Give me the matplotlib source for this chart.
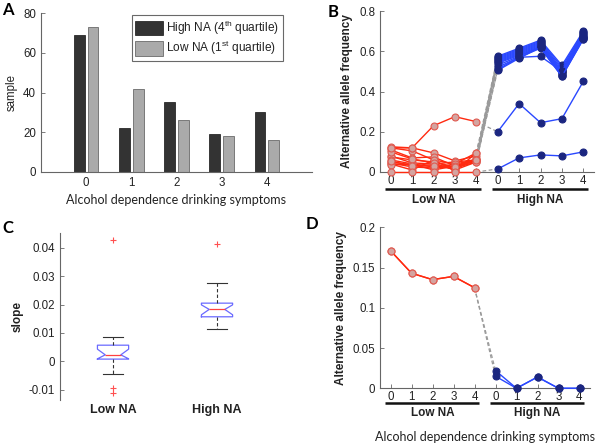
import matplotlib
matplotlib.use("Agg")
import matplotlib.pyplot as plt
from matplotlib.ticker import FuncFormatter
import numpy as np

# ---------------- data ----------------
symptoms = [0, 1, 2, 3, 4]
tick_labels_B = ["0", "1", "2", "3", "4", "0", "1", "2", "3", "4"]
high_na_counts = [69, 22, 35, 19, 30]
low_na_counts = [73, 42, 26, 18, 16]

low_B = [
    [0.120, 0.105, 0.060, 0.040, 0.095],
    [0.125, 0.120, 0.095, 0.055, 0.080],
    [0.110, 0.070, 0.075, 0.030, 0.065],
    [0.080, 0.045, 0.040, 0.050, 0.060],
    [0.075, 0.060, 0.050, 0.025, 0.055],
    [0.060, 0.040, 0.025, 0.020, 0.050],
    [0.050, 0.035, 0.035, 0.015, 0.065],
    [0.045, 0.025, 0.020, 0.040, 0.060],
    [0.040, 0.010, 0.060, 0.005, 0.095],
    [0.035, 0.040, 0.010, 0.030, 0.060],
    [0.100, 0.065, 0.045, 0.010, 0.050],
    [0.055, 0.030, 0.030, 0.025, 0.060],
    [0.120, 0.120, 0.230, 0.275, 0.250],
    [0.000, 0.000, 0.000, 0.000, 0.000],
]
high_B = [
    [0.575, 0.615, 0.655, 0.530, 0.700],
    [0.570, 0.610, 0.650, 0.520, 0.695],
    [0.565, 0.605, 0.645, 0.510, 0.690],
    [0.560, 0.600, 0.640, 0.500, 0.685],
    [0.555, 0.595, 0.635, 0.500, 0.680],
    [0.550, 0.590, 0.630, 0.495, 0.675],
    [0.545, 0.585, 0.625, 0.490, 0.670],
    [0.540, 0.580, 0.620, 0.485, 0.665],
    [0.530, 0.575, 0.620, 0.480, 0.665],
    [0.520, 0.570, 0.615, 0.475, 0.660],
    [0.510, 0.570, 0.575, 0.500, 0.670],
    [0.505, 0.565, 0.620, 0.475, 0.660],
    [0.200, 0.340, 0.245, 0.265, 0.450],
    [0.015, 0.070, 0.085, 0.080, 0.100],
]

low_D = [
    [0.171, 0.143, 0.135, 0.139, 0.125],
    [0.171, 0.143, 0.135, 0.139, 0.125],
]
high_D = [
    [0.022, 0.000, 0.014, 0.000, 0.000],
    [0.015, 0.000, 0.014, 0.000, 0.000],
]

box_labels = ["Low NA", "High NA"]
box_q1 = [0.0008, 0.0157]
box_med = [0.0023, 0.0183]
box_q3 = [0.0057, 0.0205]
box_whislo = [-0.0045, 0.0115]
box_whishi = [0.0085, 0.0277]
box_cilo = [0.0009, 0.0164]
box_cihi = [0.0043, 0.0199]
box_fliers = [[0.0427, -0.0095, -0.0111], [0.0415]]

# ---------------- style ----------------
plt.rcParams['font.family'] = ['Liberation Sans', 'DejaVu Sans']
plt.rcParams['font.size'] = 8
plt.rcParams['mathtext.default'] = 'regular'
TXT = '#222222'
SPINE = '#666666'
LBL_FONT = ['Lato', 'DejaVu Sans']

fig = plt.figure(figsize=(6.01, 4.43), dpi=100)

def px_axes(l, r, t, b):
    W, H = 601.0, 443.0
    return fig.add_axes([l / W, 1 - b / H, (r - l) / W, (b - t) / H])

def style_axes(ax, bottom=True):
    for s in ['top', 'right']:
        ax.spines[s].set_visible(False)
    ax.spines['left'].set_color(SPINE)
    ax.spines['bottom'].set_color(SPINE)
    ax.spines['bottom'].set_visible(bottom)
    ax.tick_params(direction='in', colors=SPINE, labelcolor=TXT, labelsize=8.3,
                   length=3, width=0.6)

gfmt = FuncFormatter(lambda v, p: ('%g' % round(v, 4)))

# ---------------- Panel A ----------------
axA = px_axes(41, 312, 13, 172)
x = np.array(symptoms, dtype=float)
axA.bar(x - 0.15, high_na_counts, width=0.24, color='#333333', edgecolor='#111111',
        linewidth=0.5, label='High NA (4$^{th}$ quartile)')
axA.bar(x + 0.15, low_na_counts, width=0.24, color='#aaaaaa', edgecolor='#555555',
        linewidth=0.5, label='Low NA (1$^{st}$ quartile)')
axA.set_xlim(-1, 5)
axA.set_ylim(0, 80)
axA.set_yticks([0, 20, 40, 60, 80])
axA.set_xticks(symptoms)
style_axes(axA)
axA.tick_params(axis='x', length=0)
axA.set_ylabel('sample', fontsize=8.3, color=TXT, labelpad=4)
axA.set_xlabel('Alcohol dependence drinking symptoms', fontsize=9, color=TXT,
               family=LBL_FONT, labelpad=4)
leg = axA.legend(loc='upper right', bbox_to_anchor=(0.893, 0.987), borderaxespad=0,
                 fontsize=8.6, frameon=True, fancybox=False, handlelength=2.3,
                 handleheight=1.5, labelspacing=0.2, borderpad=0.3, handletextpad=0.3)
leg.get_frame().set_edgecolor('#444444')
leg.get_frame().set_linewidth(0.8)
for t in leg.get_texts():
    t.set_color(TXT)

# ---------------- helper for B and D ----------------
RED = '#ff2a10'
RED_FACE = '#d4a4a0'
BLUE = '#2a48ff'
NAVY = '#1b2680'
pos_low = np.arange(1, 6)
pos_high = np.arange(6, 11)

def allele_panel(ax, lows, highs, ylim, yticks, line_y, text_y):
    for lo in lows:
        ax.plot(pos_low, lo, '-o', color=RED, lw=1.0, ms=5, mfc=RED_FACE,
                mec='#e05a50', mew=0.8, clip_on=False, zorder=3)
    for hi in highs:
        ax.plot(pos_high, hi, '-o', color=BLUE, lw=1.0, ms=5, mfc=NAVY,
                mec=NAVY, mew=0.8, clip_on=False, zorder=3)
    for lo, hi in zip(lows, highs):
        ax.plot([pos_low[-1], pos_high[0]], [lo[-1], hi[0]], '--', color='#9a9a9a',
                lw=0.9, dashes=(3, 2), zorder=2, clip_on=False)
    ax.set_xlim(0.5, 10.5)
    ax.set_ylim(*ylim)
    ax.set_yticks(yticks)
    ax.yaxis.set_major_formatter(gfmt)
    ax.set_xticks(np.arange(1, 11))
    ax.set_xticklabels(tick_labels_B)
    style_axes(ax)
    ax.tick_params(axis='x', pad=2)
    ax.set_ylabel('Alternative allele frequency', fontsize=8.5, fontweight='bold',
                  color=TXT, labelpad=4)
    tr = ax.get_xaxis_transform()
    ax.plot([0.75, 5.2], [line_y, line_y], color='#111111', lw=1.8,
            transform=tr, clip_on=False, solid_capstyle='butt')
    ax.plot([5.75, 10.2], [line_y, line_y], color='#111111', lw=1.8,
            transform=tr, clip_on=False, solid_capstyle='butt')
    ax.text(3, text_y, 'Low NA', transform=tr, ha='center', va='center',
            fontsize=8.5, fontweight='bold', color=TXT)
    ax.text(8, text_y, 'High NA', transform=tr, ha='center', va='center',
            fontsize=8.5, fontweight='bold', color=TXT)

# ---------------- Panel B ----------------
axB = px_axes(380, 594, 11, 172)
allele_panel(axB, low_B, high_B, (0, 0.8), [0, 0.2, 0.4, 0.6, 0.8], -0.106, -0.176)

# ---------------- Panel C ----------------
axC = px_axes(60, 269, 233, 400)
stats = []
for i in range(2):
    stats.append(dict(label=box_labels[i], q1=box_q1[i], med=box_med[i], q3=box_q3[i],
                      whislo=box_whislo[i], whishi=box_whishi[i],
                      cilo=box_cilo[i], cihi=box_cihi[i], fliers=box_fliers[i]))
axC.bxp(stats, positions=[1, 2], widths=0.3, shownotches=True, showfliers=True,
        boxprops=dict(color='#6a6aff', lw=0.9),
        medianprops=dict(color='#ff4040', lw=0.9),
        whiskerprops=dict(color='#333333', lw=0.8, linestyle=(0, (3, 2))),
        capprops=dict(color='#333333', lw=0.8),
        capwidths=0.2,
        flierprops=dict(marker='+', markeredgecolor='#ff5050', markersize=4,
                        markeredgewidth=0.8, linestyle='none'))
axC.set_xlim(0.49, 2.5)
axC.set_ylim(-0.0136, 0.0452)
axC.set_yticks([-0.01, 0, 0.01, 0.02, 0.03, 0.04])
axC.yaxis.set_major_formatter(gfmt)
style_axes(axC, bottom=False)
axC.tick_params(axis='x', length=0, labelsize=9, pad=3)
for t in axC.get_xticklabels():
    t.set_fontweight('bold')
axC.set_ylabel('slope', fontsize=8.5, fontweight='bold', color=TXT, labelpad=4)

# ---------------- Panel D ----------------
axD = px_axes(380, 590, 227.3, 388.3)
allele_panel(axD, low_D, high_D, (0, 0.2), [0, 0.05, 0.1, 0.15, 0.2], -0.089, -0.153)
axD.text(5.5, -0.30, 'Alcohol dependence drinking symptoms', transform=axD.get_xaxis_transform(),
         ha='center', va='center', fontsize=9, color=TXT, family=LBL_FONT)

# ---------------- panel letters ----------------
for lbl, (px, py) in zip('ABCD', [(8, 10), (333, 12), (8, 228), (312, 224)]):
    fig.text(px / 601, 1 - py / 443, lbl, fontsize=12, fontweight='bold',
             family=LBL_FONT, ha='center', va='center', color='black')

fig.savefig('out.png', dpi=100)
